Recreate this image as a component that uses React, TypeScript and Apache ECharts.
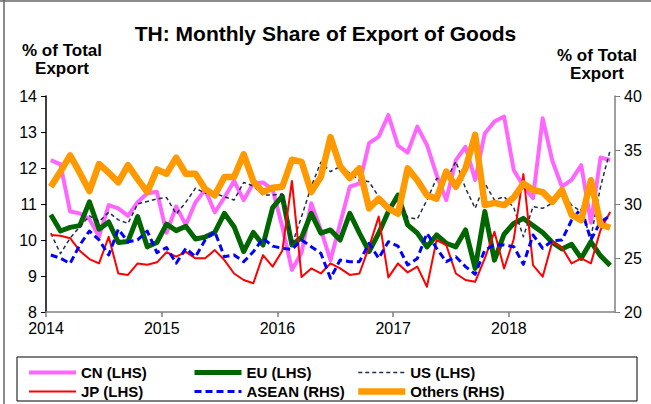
import React, { useEffect, useRef } from "react";
import * as echarts from "echarts";

const FONT = "'Liberation Sans', Arial, sans-serif";

const yearLabels = ["2014", "2015", "2016", "2017", "2018"];

// Monthly values, Jan 2014 - Nov 2018
const cnValues = [
  12.22, 12.1, 10.79, 10.74, 10.58, 10.1, 10.97, 10.88, 10.67, 11.05, 11.3, 11.34,
  10.2, 10.93, 10.42, 11.05, 11.4, 10.77, 11.18, 11.64, 11.11, 11.58, 11.6, 11.4,
  10.37, 9.17, 9.65, 11.02, 10.28, 9.44, 10.46, 11.48, 11.57, 12.69, 12.87, 13.47,
  12.62, 12.43, 13.15, 12.64, 11.81, 11.11, 12.22, 12.59, 11.67, 12.96, 13.29, 13.43,
  11.94, 11.5, 11.16, 13.38, 12.2, 11.48, 11.67, 12.08, 10.48, 12.29, 12.22,
];
const euValues = [
  10.7, 10.25, 10.35, 10.4, 11.06, 10.3, 10.5, 9.93, 9.96, 10.65, 9.81, 9.93,
  10.44, 10.26, 10.38, 10.03, 10.08, 10.21, 10.74, 10.37, 9.68, 10.21, 9.86, 10.9,
  11.22, 9.86, 10.07, 10.74, 10.19, 10.28, 10.0, 10.74, 10.19, 9.68, 10.19, 10.79,
  11.25, 10.42, 10.19, 9.81, 10.14, 9.91, 9.81, 10.28, 9.21, 10.79, 9.44, 10.16,
  10.46, 10.6, 10.4, 10.21, 9.93, 9.75, 9.88, 9.49, 9.95, 9.56, 9.29,
];
const usValues = [
  10.19, 9.62, 10.05, 10.37, 10.67, 10.51, 10.77, 10.56, 10.46, 11.0, 11.07, 11.14,
  11.18, 10.72, 11.05, 11.44, 11.3, 11.3, 11.2, 11.11, 11.6, 11.5, 11.25, 11.25,
  11.28, 9.86, 10.65, 11.48, 12.16, 11.9, 12.04, 11.85, 11.67, 11.62, 11.2, 10.93,
  11.1, 10.63, 10.58, 11.11, 11.71, 11.67, 12.18, 11.44, 10.88, 11.57, 11.11, 11.2,
  10.9, 10.09, 10.93, 10.88, 11.02, 11.35, 10.97, 10.79, 10.07, 11.48, 12.5,
];
const jpValues = [
  10.14, 10.12, 10.05, 9.7, 9.47, 9.35, 10.09, 9.07, 9.03, 9.35, 9.31, 9.38,
  9.66, 9.54, 9.67, 9.49, 9.49, 9.72, 9.44, 9.07, 8.89, 8.8, 9.58, 9.26,
  9.7, 11.64, 8.97, 9.21, 9.07, 9.35, 9.21, 9.03, 9.07, 9.81, 10.65, 8.96,
  9.35, 9.1, 9.26, 8.7, 10.0, 9.86, 9.07, 8.89, 8.84, 9.49, 10.23, 9.21,
  10.02, 11.83, 9.3, 8.98, 9.95, 9.79, 9.35, 9.49, 9.35, 10.28, 10.78,
];
const aseanValues = [
  25.28, 24.97, 24.5, 26.2, 27.5, 26.67, 25.28, 27.67, 26.5, 26.67, 27.5, 25.5,
  25.97, 24.51, 25.9, 25.12, 26.67, 27.44, 25.12, 25.28, 24.66, 25.58, 26.82, 26.1,
  25.9, 25.8, 26.67, 26.05, 25.43, 23.12, 24.81, 24.66, 24.66, 26.36, 24.97, 26.51,
  26.1, 24.35, 24.95, 27.29, 25.9, 24.66, 25.12, 24.2, 23.5, 25.74, 26.2, 26.2,
  26.05, 24.43, 27.13, 25.9, 26.6, 26.67, 28.5, 29.6, 26.67, 28.36, 28.9,
];
const othersValues = [
  31.6, 33.0, 34.5, 32.9, 31.2, 33.7, 32.9, 32.0, 33.6, 32.3, 31.1, 33.2,
  32.8, 34.3, 32.8, 32.8, 31.4, 30.8, 32.5, 32.5, 34.6, 32.1, 31.1, 31.5,
  31.6, 34.1, 33.9, 31.1, 32.5, 36.2, 33.5, 32.4, 33.3, 29.6, 30.5, 29.6,
  29.1, 33.3, 32.2, 30.8, 30.5, 33.0, 31.6, 33.3, 36.4, 29.9, 30.1, 29.9,
  30.6, 31.9, 31.3, 31.1, 30.2, 31.3, 29.0, 28.5, 32.2, 28.1, 27.8,
];

// Legend columns (left to right), two entries each
const legendColumns = [
  ["CN (LHS)", "JP (LHS)"],
  ["EU (LHS)", "ASEAN (RHS)"],
  ["US (LHS)", "Others (RHS)"],
];
const legendColumnLeft = [27, 192, 355];

export default function App() {
  const ref = useRef<HTMLDivElement>(null);

  useEffect(() => {
    document.body.style.margin = "0";
    const chart = echarts.init(ref.current!, null, { renderer: "svg" });
    const pts = (arr: number[]) => arr.map((v, i) => [i + 0.5, v]);
    const mk = (
      name: string,
      data: number[],
      color: string,
      width: number,
      yAxisIndex: number,
      type: any = "solid"
    ) => ({
      name,
      type: "line",
      data: pts(data),
      yAxisIndex,
      symbol: "none",
      showSymbol: false,
      itemStyle: { color },
      lineStyle: { color, width, type, join: "round", cap: "butt" },
    });

    const axisLabel = { fontSize: 16, color: "#000", fontFamily: FONT };
    const legendText = {
      fontSize: 15,
      fontWeight: "bold",
      color: "#000",
      fontFamily: FONT,
    };

    chart.setOption({
      animation: false,
      backgroundColor: "#fff",
      title: {
        text: "TH: Monthly Share of Export of Goods",
        left: "center",
        top: 18,
        textStyle: { fontSize: 21, fontWeight: "bold", color: "#000", fontFamily: FONT },
      },
      grid: { left: 46, right: 36, top: 96, bottom: 92, containLabel: false },
      xAxis: {
        type: "value",
        min: 0,
        max: 59,
        interval: 12,
        axisLine: { show: true, onZero: false, lineStyle: { color: "#808080", width: 1.5 } },
        axisTick: { show: true, inside: false, length: 5, lineStyle: { color: "#808080", width: 1.5 } },
        axisLabel: {
          ...axisLabel,
          margin: 8,
          showMaxLabel: false,
          formatter: (v: number) => (v % 12 === 0 ? yearLabels[v / 12] : ""),
        },
        splitLine: { show: false },
      },
      yAxis: [
        {
          type: "value",
          min: 8,
          max: 14,
          interval: 1,
          position: "left",
          axisLine: { show: true, lineStyle: { color: "#000", width: 1.5 } },
          axisTick: { show: true, inside: false, length: 5, lineStyle: { color: "#000" } },
          axisLabel: { ...axisLabel, margin: 9 },
          splitLine: { show: false },
        },
        {
          type: "value",
          min: 20,
          max: 40,
          interval: 5,
          position: "right",
          axisLine: { show: true, lineStyle: { color: "#808080", width: 1.5 } },
          axisTick: { show: true, inside: false, length: 5, lineStyle: { color: "#808080" } },
          axisLabel: { ...axisLabel, margin: 9 },
          splitLine: { show: false },
        },
      ],
      legend: legendColumns.map((names, c) => ({
        data: names,
        left: legendColumnLeft[c],
        top: 365,
        orient: "vertical",
        itemWidth: 47,
        itemHeight: 14,
        itemGap: 4,
        padding: 0,
        selectedMode: false,
        itemStyle: { opacity: 0 },
        lineStyle: { width: "inherit", opacity: 1 },
        textStyle: legendText,
      })),
      graphic: [
        { type: "line", shape: { x1: 0, y1: 1, x2: 651, y2: 1 }, style: { stroke: "#666", lineWidth: 1.5 } },
        { type: "line", shape: { x1: 4, y1: 0, x2: 4, y2: 404 }, style: { stroke: "#666", lineWidth: 1.5 } },
        {
          type: "rect",
          shape: { x: 17, y: 357, width: 620, height: 44 },
          style: { fill: "none", stroke: "#000", lineWidth: 1 },
        },
        {
          type: "text",
          x: 62,
          y: 41,
          style: {
            text: "% of Total\nExport",
            fontSize: 17,
            fontWeight: "bold",
            fontFamily: FONT,
            fill: "#000",
            align: "center",
            verticalAlign: "top",
            lineHeight: 18,
          },
        },
        {
          type: "text",
          x: 597,
          y: 46,
          style: {
            text: "% of Total\nExport",
            fontSize: 17,
            fontWeight: "bold",
            fontFamily: FONT,
            fill: "#000",
            align: "center",
            verticalAlign: "top",
            lineHeight: 18,
          },
        },
      ],
      series: [
        mk("CN (LHS)", cnValues, "#FF66FF", 4, 0),
        mk("EU (LHS)", euValues, "#006600", 5, 0),
        mk("US (LHS)", usValues, "#1F2D4D", 1.5, 0, [4, 3]),
        mk("JP (LHS)", jpValues, "#FF0000", 2, 0),
        mk("ASEAN (RHS)", aseanValues, "#0000FF", 3, 1, [7, 4]),
        mk("Others (RHS)", othersValues, "#FF9900", 6.5, 1),
      ],
    });
    return () => chart.dispose();
  }, []);

  return <div ref={ref} style={{ width: 651, height: 404 }} />;
}
